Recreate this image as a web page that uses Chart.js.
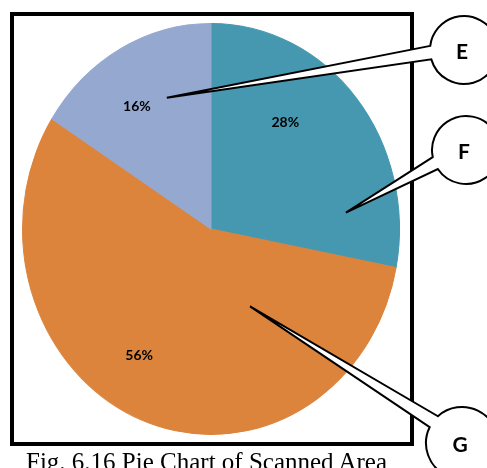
<!DOCTYPE html>
<html><head><meta charset="utf-8">
<script src="https://cdn.jsdelivr.net/npm/chart.js@4/dist/chart.umd.min.js"></script>
<style>
html,body{margin:0;padding:0;background:#fff;overflow:hidden;}
#wrap{position:relative;width:487px;height:468px;}
#c{position:absolute;left:0;top:0;}
#caption{position:absolute;left:26px;top:449px;font-family:"Liberation Serif","Times New Roman",serif;font-size:25px;line-height:25px;white-space:nowrap;color:#000;}
</style></head><body>
<div id="wrap"><canvas id="c" width="487" height="468"></canvas><div id="caption">Fig. 6.16 Pie Chart of Scanned Area</div></div>
<script>
// Data
const categories = ['F', 'G', 'E'];
const values = [28, 56, 16];
const valueLabels = ['28%', '56%', '16%'];
const sliceColors = ['#4698B0', '#DC843C', '#95A8D0'];

// Styling / annotation layout (not data)
const K = 206 / 189; // vertical stretch of the pie in the reference
const labelPlace = [{af: 0.37, rf: 0.65}, {af: 0.55, rf: 0.725}, {af: 0.42, rf: 0.714}];
const callouts = [
  {cat: 'E', cx: 464, cy: 50, r: 34, a1: 164, a2: 187, af: 0.65, rf: 0.68},
  {cat: 'F', cx: 466, cy: 150, r: 34, a1: 146, a2: 168, af: 0.83, rf: 0.72},
  {cat: 'G', cx: 462, cy: 443, r: 36, a1: 206, a2: 228, af: 0.25, rf: 0.43}
];

function pointIn(arc, af, rf) {
  const p = arc.getProps(['x', 'y', 'startAngle', 'endAngle', 'outerRadius'], true);
  const a = p.startAngle + af * (p.endAngle - p.startAngle);
  const r = p.outerRadius * rf;
  return {x: p.x + r * Math.cos(a), y: p.y + K * r * Math.sin(a)};
}

const ellipsePlugin = {
  id: 'ellipse',
  beforeDatasetsDraw(chart) {
    const a = chart.getDatasetMeta(0).data[0];
    const ctx = chart.ctx;
    ctx.save();
    ctx.translate(a.x, a.y);
    ctx.scale(1, K);
    ctx.translate(-a.x, -a.y);
  },
  afterDatasetsDraw(chart) {
    chart.ctx.restore();
  }
};

const overlayPlugin = {
  id: 'overlay',
  afterDraw(chart) {
    const ctx = chart.ctx;
    const meta = chart.getDatasetMeta(0);
    // value labels
    ctx.save();
    ctx.fillStyle = '#000';
    ctx.font = 'bold 14px Lato, "Open Sans", sans-serif';
    ctx.textAlign = 'center';
    ctx.textBaseline = 'middle';
    meta.data.forEach((arc, i) => {
      const p = pointIn(arc, labelPlace[i].af, labelPlace[i].rf);
      ctx.fillText(valueLabels[i], p.x, p.y);
    });
    // frame
    ctx.strokeStyle = '#000';
    ctx.lineWidth = 4;
    ctx.strokeRect(12, 14, 400, 430);
    // callouts
    callouts.forEach(c => {
      const idx = categories.indexOf(c.cat);
      const tip = pointIn(meta.data[idx], c.af, c.rf);
      const a1 = c.a1 * Math.PI / 180, a2 = c.a2 * Math.PI / 180;
      ctx.beginPath();
      ctx.moveTo(c.cx + c.r * Math.cos(a2), c.cy + c.r * Math.sin(a2));
      ctx.lineTo(tip.x, tip.y);
      ctx.lineTo(c.cx + c.r * Math.cos(a1), c.cy + c.r * Math.sin(a1));
      ctx.arc(c.cx, c.cy, c.r, a1, a2, true);
      ctx.closePath();
      ctx.fillStyle = '#fff';
      ctx.fill();
      ctx.lineWidth = 2;
      ctx.lineJoin = 'miter';
      ctx.strokeStyle = '#000';
      ctx.stroke();
      ctx.fillStyle = '#000';
      ctx.font = 'bold 21px Lato, "Open Sans", sans-serif';
      ctx.textAlign = 'center';
      ctx.textBaseline = 'middle';
      ctx.fillText(c.cat, c.cx - 2, c.cy + 2);
    });
    ctx.restore();
  }
};

new Chart(document.getElementById('c'), {
  type: 'pie',
  data: {
    labels: categories,
    datasets: [{
      data: values,
      backgroundColor: sliceColors,
      borderColor: sliceColors,
      borderWidth: 1,
      hoverOffset: 0,
      clip: false
    }]
  },
  options: {
    responsive: false,
    maintainAspectRatio: false,
    animation: false,
    devicePixelRatio: 1,
    events: [],
    layout: {padding: {left: 22, right: 87, top: 40, bottom: 50}},
    plugins: {legend: {display: false}, tooltip: {enabled: false}}
  },
  plugins: [ellipsePlugin, overlayPlugin]
});
</script>
</body></html>
